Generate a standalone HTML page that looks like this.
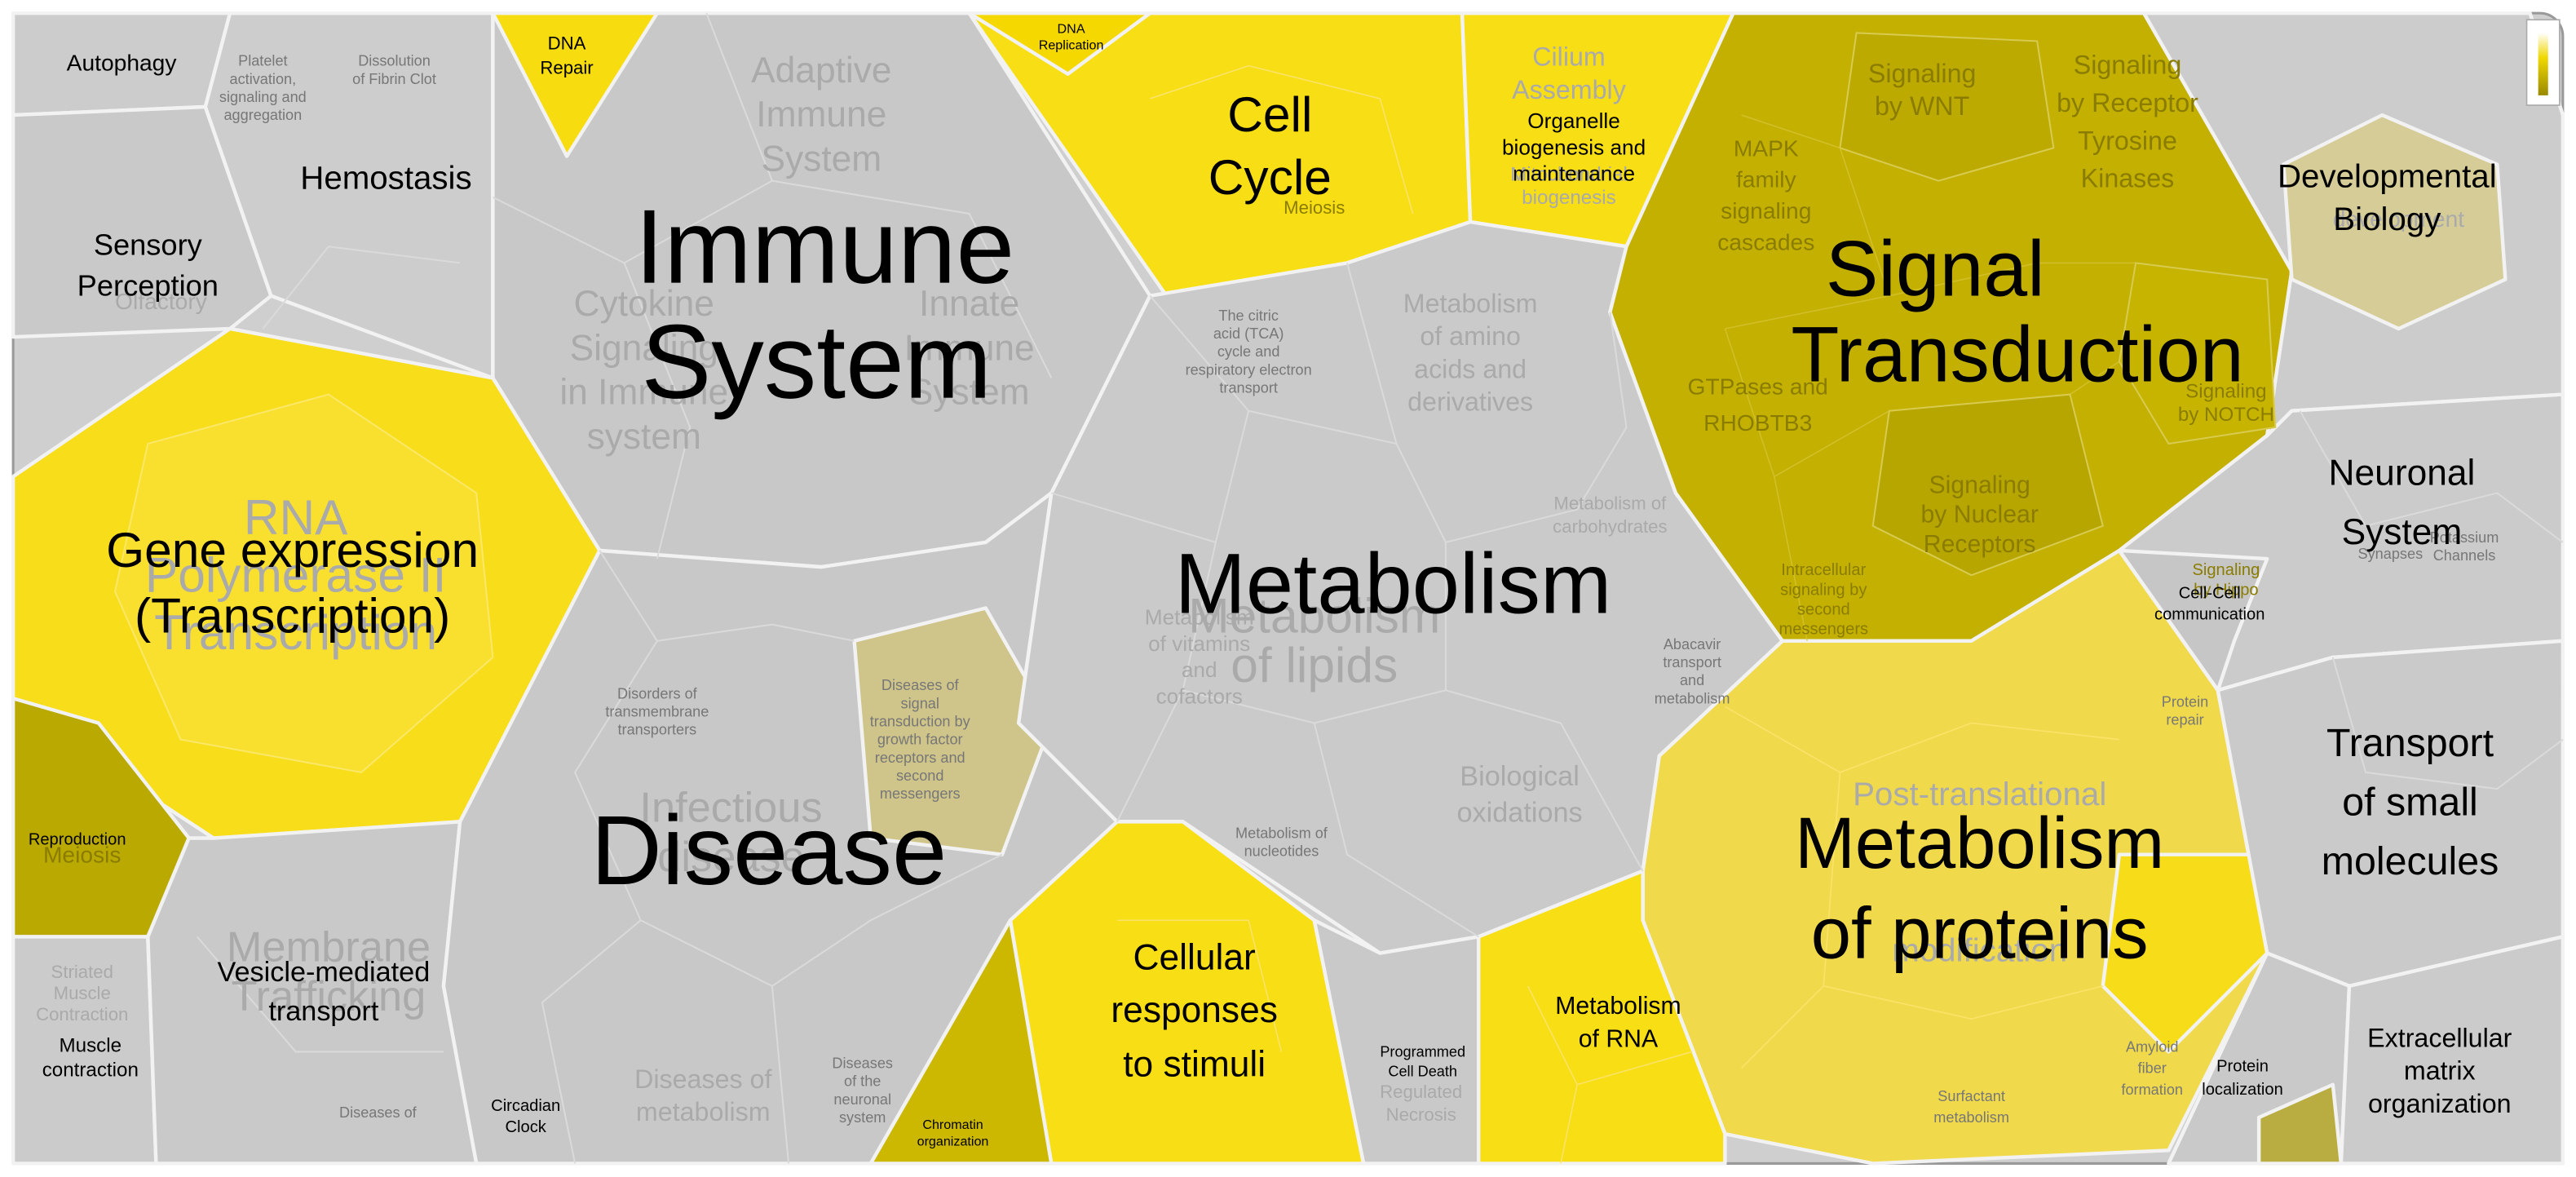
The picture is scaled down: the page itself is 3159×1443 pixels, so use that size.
<!DOCTYPE html>
<html><head><meta charset="utf-8"><style>
html,body{margin:0;padding:0;background:#fff;}
svg{display:block;}
text{font-family:"Liberation Sans",sans-serif;text-anchor:middle;}
.b{fill:#000;}
.g{fill:#aaa;}
.o{fill:#8a7c00;}
.s{fill:#777;}
</style></head><body>
<svg width="3159" height="1443" viewBox="0 0 1568 716.2" xmlns="http://www.w3.org/2000/svg">
<rect x="0" y="0" width="1568" height="716.2" fill="#fff"/>
<rect x="8" y="8" width="1552" height="700" rx="14" fill="#cfcfcf" stroke="#999" stroke-width="1.5"/>
<g stroke="#f2f2f2" stroke-width="2.2" stroke-linejoin="round">
<polygon points="8,8 140,8 125,65 8,70" fill="#cccccc"/>
<polygon points="8,70 125,65 165,180 140,200 8,205" fill="#c9c9c9"/>
<polygon points="140,8 300,8 300,150 300,230 165,180 125,65" fill="#cdcdcd"/>
<polygon points="300,8 590,8 700,180 640,300 600,330 500,345 365,335 300,230" fill="#c8c8c8"/>
<polygon points="300,8 400,8 345,95" fill="#f7dc10"/>
<polygon points="8,290 140,200 300,230 365,335 280,500 130,510 8,430" fill="#f7dd1a"/>
<polygon points="8,425 60,440 115,510 90,570 8,570" fill="#b9a900"/>
<polygon points="8,570 90,570 95,708 8,708" fill="#cbcbcb"/>
<polygon points="90,570 115,510 130,510 280,500 270,600 290,708 95,708" fill="#c9c9c9"/>
<polygon points="280,500 365,335 500,345 600,330 640,300 620,440 680,500 615,560 530,708 290,708 270,600" fill="#c8c8c8"/>
<polygon points="520,390 600,370 640,440 610,520 530,510" fill="#cfc58a"/>
<polygon points="530,708 615,560 640,708" fill="#ccb800"/>
<polygon points="590,8 890,8 895,135 820,160 710,180" fill="#f8de14"/>
<polygon points="590,8 700,8 650,45" fill="#f5d800"/>
<polygon points="890,8 1055,8 990,150 895,135" fill="#f8de14"/>
<polygon points="640,300 700,180 820,160 895,135 990,150 980,190 1020,300 1085,390 1010,460 1000,530 900,570 840,580 720,500 680,500 620,440" fill="#cacaca"/>
<polygon points="1055,8 1305,8 1395,165 1380,265 1290,335 1200,390 1085,390 1020,300 980,190 990,150" fill="#c3b000"/>
<polygon points="1085,390 1200,390 1290,335 1350,420 1380,580 1320,700 1140,708 1050,690 1000,560 1000,530 1010,460" fill="#f0d94a"/>
<polygon points="1290,520 1370,520 1380,580 1320,640 1280,600" fill="#f7dc1a"/>
<polygon points="615,560 680,500 720,500 800,560 830,708 640,708" fill="#f8de14"/>
<polygon points="800,560 840,580 900,570 900,708 830,708" fill="#c9c9c9"/>
<polygon points="900,570 1000,530 1000,560 1050,690 1050,708 900,708" fill="#f8de14"/>
<polygon points="1305,8 1540,8 1560,70 1560,240 1395,250 1380,265 1395,165" fill="#cccccc"/>
<polygon points="1390,100 1450,70 1520,100 1525,170 1460,200 1395,170" fill="#d6cc98"/>
<polygon points="1380,265 1395,250 1560,240 1560,390 1420,400 1350,420 1290,335" fill="#cbcbcb"/>
<polygon points="1290,335 1350,420 1360,390 1380,340" fill="#c6c6c6"/>
<polygon points="1350,420 1420,400 1560,390 1560,570 1430,600 1380,580" fill="#cacaca"/>
<polygon points="1380,580 1430,600 1425,708 1320,708" fill="#c9c9c9"/>
<polygon points="1430,600 1560,570 1560,708 1425,708" fill="#cbcbcb"/>
<polygon points="1375,680 1420,660 1425,708 1375,708" fill="#b9ac40"/>
</g>
<!-- subtle sub cells -->
<g stroke="#d8cb50" stroke-width="1" fill-opacity="1">
<polygon points="1130,20 1240,25 1250,90 1180,110 1120,90" fill="#bcaa00"/>
<polygon points="1150,250 1260,240 1280,320 1200,350 1140,320" fill="#b8a600"/>
<polygon points="1300,160 1380,170 1385,260 1320,270 1290,220" fill="#c7b400"/>
</g>
<polygon points="90,270 200,240 290,300 300,400 220,470 110,450 70,360" fill="#f9e02e" stroke="#fbe868" stroke-width="1"/>
<g stroke="#dadada" stroke-width="1" fill="none">
<polyline points="300,120 380,160 420,260 400,340"/>
<polyline points="380,160 470,110 590,130 640,230"/>
<polyline points="470,110 430,8"/>
<polyline points="365,335 400,390 470,380 520,390"/>
<polyline points="400,390 350,470 390,560 470,600 530,560 610,520"/>
<polyline points="390,560 330,610 350,708"/>
<polyline points="470,600 480,708"/>
<polyline points="700,180 760,250 740,330 640,300"/>
<polyline points="760,250 850,270 880,330 960,310 990,260 980,190"/>
<polyline points="850,270 820,160"/>
<polyline points="740,330 720,420 800,440 880,420 880,330"/>
<polyline points="880,420 950,440 1000,530"/>
<polyline points="720,420 680,500"/>
<polyline points="800,440 820,520 900,570"/>
<polyline points="160,200 200,150 280,160"/>
<polyline points="1400,250 1440,320 1520,300 1560,330"/>
<polyline points="1420,400 1440,470 1520,480 1560,450"/>
<polyline points="120,570 180,640 270,640"/>
</g>
<g stroke="#d9c63a" stroke-width="0.8" fill="none" opacity="0.7">
<polyline points="1060,70 1120,90 1150,180 1050,200"/>
<polyline points="1150,180 1240,160 1300,160"/>
<polyline points="1050,200 1080,290 1150,250"/>
<polyline points="1080,290 1100,390"/>
<polyline points="1260,240 1290,220"/>
</g>
<g stroke="#fbe36a" stroke-width="0.8" fill="none">
<polyline points="1050,430 1120,470 1200,440 1290,450"/>
<polyline points="1120,470 1110,600 1200,620 1280,600"/>
<polyline points="1110,600 1060,650"/>
<polyline points="930,600 960,660 1030,640"/>
<polyline points="960,660 950,708"/>
<polyline points="700,60 760,40 840,60 860,130"/>
<polyline points="680,560 760,560 780,640"/>
</g>
<defs><linearGradient id="lg" x1="0" y1="0" x2="0" y2="1"><stop offset="0" stop-color="#fff"/><stop offset="0.4" stop-color="#f0d800"/><stop offset="1" stop-color="#9a8a00"/></linearGradient></defs>
<rect x="1538" y="12" width="20" height="52" fill="#fff" stroke="#aaa" stroke-width="0.8"/>
<rect x="1545" y="20" width="6" height="38" fill="url(#lg)"/>

<g class="g">
<text x="500" y="50" font-size="22">Adaptive</text>
<text x="500" y="77" font-size="22">Immune</text>
<text x="500" y="104" font-size="22">System</text>
<text x="392" y="192" font-size="22">Cytokine</text>
<text x="392" y="219" font-size="22">Signaling</text>
<text x="392" y="246" font-size="22">in Immune</text>
<text x="392" y="273" font-size="22">system</text>
<text x="590" y="192" font-size="22">Innate</text>
<text x="590" y="219" font-size="22">Immune</text>
<text x="590" y="246" font-size="22">System</text>
<text x="180" y="325" font-size="30">RNA</text>
<text x="180" y="360" font-size="30">Polymerase II</text>
<text x="180" y="395" font-size="30">Transcription</text>
<text x="445" y="500" font-size="26">Infectious</text>
<text x="445" y="530" font-size="26">disease</text>
<text x="200" y="585" font-size="26">Membrane</text>
<text x="200" y="615" font-size="26">Trafficking</text>
<text x="428" y="662" font-size="16">Diseases of</text>
<text x="428" y="682" font-size="16">metabolism</text>
<text x="800" y="385" font-size="30">Metabolism</text>
<text x="800" y="415" font-size="30">of lipids</text>
<text x="895" y="190" font-size="16">Metabolism</text>
<text x="895" y="210" font-size="16">of amino</text>
<text x="895" y="230" font-size="16">acids and</text>
<text x="895" y="250" font-size="16">derivatives</text>
<text x="925" y="478" font-size="17">Biological</text>
<text x="925" y="500" font-size="17">oxidations</text>
<text x="1205" y="490" font-size="20">Post-translational</text>
<text x="1205" y="585" font-size="20">modification</text>
<text x="1460" y="138" font-size="14">development</text>
<text x="98" y="188" font-size="14">Olfactory</text>
<text x="955" y="40" font-size="16">Cilium</text>
<text x="955" y="60" font-size="16">Assembly</text>
<text x="955" y="110" font-size="12">Mitochondrial</text>
<text x="955" y="124" font-size="12">biogenesis</text>
<text x="50" y="595" font-size="11">Striated</text>
<text x="50" y="608" font-size="11">Muscle</text>
<text x="50" y="621" font-size="11">Contraction</text>
<text x="980" y="310" font-size="11">Metabolism of</text>
<text x="980" y="324" font-size="11">carbohydrates</text>
<text x="865" y="668" font-size="11">Regulated</text>
<text x="865" y="682" font-size="11">Necrosis</text>
<text x="730" y="380" font-size="13">Metabolism</text>
<text x="730" y="396" font-size="13">of vitamins</text>
<text x="730" y="412" font-size="13">and</text>
<text x="730" y="428" font-size="13">cofactors</text>
</g>
<g class="s" font-size="9">
<text x="160" y="40">Platelet</text><text x="160" y="51">activation,</text><text x="160" y="62">signaling and</text><text x="160" y="73">aggregation</text>
<text x="240" y="40">Dissolution</text><text x="240" y="51">of Fibrin Clot</text>
<text x="400" y="425">Disorders of</text><text x="400" y="436">transmembrane</text><text x="400" y="447">transporters</text>
<text x="560" y="420">Diseases of</text><text x="560" y="431">signal</text><text x="560" y="442">transduction by</text><text x="560" y="453">growth factor</text><text x="560" y="464">receptors and</text><text x="560" y="475">second</text><text x="560" y="486">messengers</text>
<text x="760" y="195">The citric</text><text x="760" y="206">acid (TCA)</text><text x="760" y="217">cycle and</text><text x="760" y="228">respiratory electron</text><text x="760" y="239">transport</text>
<text x="780" y="510">Metabolism of</text><text x="780" y="521">nucleotides</text>
<text x="1030" y="395">Abacavir</text><text x="1030" y="406">transport</text><text x="1030" y="417">and</text><text x="1030" y="428">metabolism</text>
<text x="1330" y="430">Protein</text><text x="1330" y="441">repair</text>
<text x="1310" y="640">Amyloid</text><text x="1310" y="653">fiber</text><text x="1310" y="666">formation</text>
<text x="1200" y="670">Surfactant</text><text x="1200" y="683">metabolism</text>
<text x="1500" y="330">Potassium</text><text x="1500" y="341">Channels</text>
<text x="1455" y="340">Synapses</text>
<text x="230" y="680">Diseases of</text>
<text x="525" y="650">Diseases</text><text x="525" y="661">of the</text><text x="525" y="672">neuronal</text><text x="525" y="683">system</text>
</g>
<g class="o">
<text x="1170" y="50" font-size="16">Signaling</text><text x="1170" y="70" font-size="16">by WNT</text>
<text x="1295" y="45" font-size="16">Signaling</text><text x="1295" y="68" font-size="16">by Receptor</text><text x="1295" y="91" font-size="16">Tyrosine</text><text x="1295" y="114" font-size="16">Kinases</text>
<text x="1075" y="95" font-size="14">MAPK</text><text x="1075" y="114" font-size="14">family</text><text x="1075" y="133" font-size="14">signaling</text><text x="1075" y="152" font-size="14">cascades</text>
<text x="1070" y="240" font-size="14">GTPases and</text><text x="1070" y="262" font-size="14">RHOBTB3</text>
<text x="1205" y="300" font-size="15">Signaling</text><text x="1205" y="318" font-size="15">by Nuclear</text><text x="1205" y="336" font-size="15">Receptors</text>
<text x="1355" y="242" font-size="12">Signaling</text><text x="1355" y="256" font-size="12">by NOTCH</text>
<text x="1110" y="350" font-size="10">Intracellular</text><text x="1110" y="362" font-size="10">signaling by</text><text x="1110" y="374" font-size="10">second</text><text x="1110" y="386" font-size="10">messengers</text>
<text x="1355" y="350" font-size="10">Signaling</text><text x="1355" y="362" font-size="10">by Hippo</text>
<text x="50" y="525" font-size="14">Meiosis</text>
<text x="800" y="130" font-size="11">Meiosis</text>
</g>

<g class="b">
<text x="502" y="172" font-size="64">Immune</text>
<text x="497" y="242" font-size="64">System</text>
<text x="1178" y="180" font-size="48">Signal</text>
<text x="1228" y="232" font-size="48">Transduction</text>
<text x="848" y="373" font-size="52">Metabolism</text>
<text x="468" y="538" font-size="60">Disease</text>
<text x="1205" y="528" font-size="44">Metabolism</text>
<text x="1205" y="583" font-size="44">of proteins</text>
<text x="178" y="345" font-size="30">Gene expression</text>
<text x="178" y="385" font-size="30">(Transcription)</text>
<text x="773" y="80" font-size="30">Cell</text>
<text x="773" y="118" font-size="30">Cycle</text>
<text x="958" y="78" font-size="13">Organelle</text>
<text x="958" y="94" font-size="13">biogenesis and</text>
<text x="958" y="110" font-size="13">maintenance</text>
<text x="345" y="30" font-size="11">DNA</text>
<text x="345" y="45" font-size="11">Repair</text>
<text x="652" y="20" font-size="8">DNA</text>
<text x="652" y="30" font-size="8">Replication</text>
<text x="74" y="43" font-size="14">Autophagy</text>
<text x="235" y="115" font-size="20">Hemostasis</text>
<text x="90" y="155" font-size="18">Sensory</text>
<text x="90" y="180" font-size="18">Perception</text>
<text x="1453" y="114" font-size="20">Developmental</text>
<text x="1453" y="140" font-size="20">Biology</text>
<text x="1462" y="295" font-size="22">Neuronal</text>
<text x="1462" y="331" font-size="22">System</text>
<text x="1345" y="364" font-size="10">Cell-Cell</text>
<text x="1345" y="377" font-size="10">communication</text>
<text x="1467" y="460" font-size="24">Transport</text>
<text x="1467" y="496" font-size="24">of small</text>
<text x="1467" y="532" font-size="24">molecules</text>
<text x="1485" y="637" font-size="16">Extracellular</text>
<text x="1485" y="657" font-size="16">matrix</text>
<text x="1485" y="677" font-size="16">organization</text>
<text x="1365" y="652" font-size="10">Protein</text>
<text x="1365" y="666" font-size="10">localization</text>
<text x="727" y="590" font-size="22">Cellular</text>
<text x="727" y="622" font-size="22">responses</text>
<text x="727" y="655" font-size="22">to stimuli</text>
<text x="985" y="617" font-size="15">Metabolism</text>
<text x="985" y="637" font-size="15">of RNA</text>
<text x="866" y="643" font-size="9">Programmed</text>
<text x="866" y="655" font-size="9">Cell Death</text>
<text x="580" y="687" font-size="8">Chromatin</text>
<text x="580" y="697" font-size="8">organization</text>
<text x="320" y="676" font-size="10">Circadian</text>
<text x="320" y="689" font-size="10">Clock</text>
<text x="197" y="597" font-size="17">Vesicle-mediated</text>
<text x="197" y="621" font-size="17">transport</text>
<text x="55" y="640" font-size="12">Muscle</text>
<text x="55" y="655" font-size="12">contraction</text>
<text x="47" y="514" font-size="10">Reproduction</text>
</g>
</svg>
</body></html>
